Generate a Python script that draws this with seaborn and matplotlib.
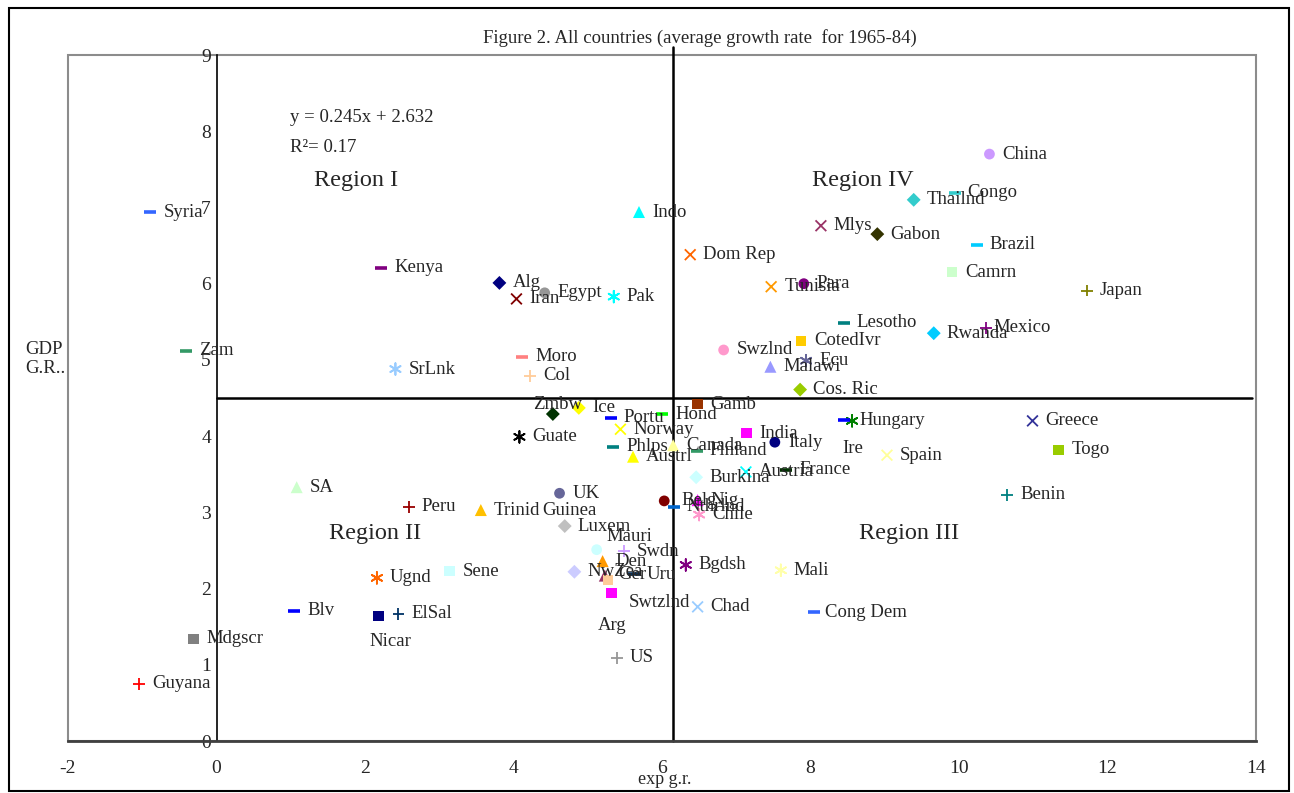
import pandas as pd
import seaborn as sns
import matplotlib.pyplot as plt
from matplotlib.patches import Rectangle

# country data
countries = ["Syria", "Kenya", "Zam", "SrLnk", "SA", "Peru", "Ugnd", "Blv", "Nicar", "ElSal",
             "Mdgscr", "Guyana", "Sene", "Trinid", "Guinea", "Guate", "Zmbw", "Ice", "Portu", "Norway",
             "Phlps", "Austrl", "Canada", "Hond", "Gamb", "Finland", "India", "Italy", "Ire", "Hungary",
             "Austria", "France", "Burkina", "Spain", "Greece", "Togo", "Benin", "UK", "Belg", "Nthrlnd",
             "Nig", "Chile", "Luxem", "Mauri", "Swdn", "Den", "NwZea", "Ger", "Arg", "Uru",
             "Swtzlnd", "US", "Bgdsh", "Mali", "Chad", "Cong Dem", "Indo", "Dom Rep", "Alg", "Iran",
             "Egypt", "Pak", "Moro", "Col", "Tunisia", "Para", "Mlys", "Gabon", "China", "Congo",
             "Thailnd", "Brazil", "Camrn", "Japan", "Lesotho", "CotedIvr", "Swzlnd", "Ecu", "Malawi", "Cos. Ric",
             "Rwanda", "Mexico"]
exp_gr = [-0.89, 2.22, -0.41, 2.41, 1.08, 2.59, 2.16, 1.05, 2.18, 2.45,
          -0.31, -1.04, 3.14, 3.56, 4.21, 4.08, 4.53, 4.88, 5.31, 5.44,
          5.34, 5.61, 6.15, 6.00, 6.48, 6.47, 7.14, 7.52, 8.45, 8.56,
          7.13, 7.67, 6.46, 9.03, 10.99, 11.34, 10.65, 4.62, 6.03, 6.16,
          6.48, 6.50, 4.69, 5.12, 5.49, 5.20, 4.82, 5.23, 5.27, 5.62,
          5.32, 5.39, 6.32, 7.60, 6.48, 8.05, 5.69, 6.38, 3.81, 4.04,
          4.42, 5.35, 4.12, 4.22, 7.47, 7.91, 8.14, 8.90, 10.41, 9.94,
          9.39, 10.24, 9.91, 11.72, 8.45, 7.87, 6.83, 7.94, 7.46, 7.86,
          9.66, 10.36]
gdp_gr = [6.94, 6.21, 5.12, 4.88, 3.33, 3.07, 2.14, 1.71, 1.64, 1.67,
          1.34, 0.75, 2.23, 3.03, 3.02, 3.99, 4.29, 4.37, 4.24, 4.09,
          3.86, 3.73, 3.88, 4.29, 4.42, 3.81, 4.04, 3.92, 4.21, 4.20,
          3.53, 3.56, 3.46, 3.75, 4.20, 3.82, 3.23, 3.25, 3.15, 3.07,
          3.16, 2.97, 2.82, 2.51, 2.49, 2.36, 2.22, 2.17, 2.11, 2.19,
          1.94, 1.09, 2.31, 2.24, 1.76, 1.69, 6.94, 6.38, 6.01, 5.80,
          5.88, 5.83, 5.04, 4.79, 5.96, 6.00, 6.76, 6.65, 7.70, 7.19,
          7.10, 6.51, 6.15, 5.91, 5.49, 5.25, 5.13, 4.99, 4.91, 4.61,
          5.35, 5.42]

# Excel-like marker per country (* = asterisk)
markers = ["_", "_", "_", "*", "^", "+", "*", "_", "s", "+",
           "s", "+", "s", "^", "o", "*", "D", "D", "_", "x",
           "_", "^", "^", "_", "s", "_", "s", "o", "_", "*",
           "x", "_", "D", "x", "x", "s", "+", "o", "o", "_",
           "^", "*", "D", "o", "+", "^", "D", "^", "s", "_",
           "s", "+", "*", "*", "x", "_", "^", "x", "D", "x",
           "o", "*", "_", "+", "x", "o", "x", "D", "o", "_",
           "D", "_", "s", "+", "_", "s", "o", "*", "^", "D",
           "D", "+"]
colors = ["#3366ff", "#800080", "#339966", "#99ccff", "#ccffcc", "#990000", "#ff6600", "#0000ff", "#000080", "#003366",
          "#808080", "#ff0000", "#ccffff", "#ffc000", "#ffffff", "#000000", "#003300", "#ffff00", "#0000ff", "#ffff00",
          "#008080", "#ffff00", "#ffff99", "#00ff00", "#993300", "#339966", "#ff00ff", "#000080", "#0000ff", "#008000",
          "#00ffff", "#003300", "#ccffff", "#ffff99", "#333399", "#99cc00", "#008080", "#666699", "#800000", "#0066cc",
          "#ff00ff", "#ff99cc", "#c0c0c0", "#ccffff", "#cc99ff", "#ff9900", "#ccccff", "#993366", "#ffcc99", "#003366",
          "#ff00ff", "#969696", "#800080", "#ffffaa", "#99ccff", "#3366ff", "#00ffff", "#ff6600", "#000080", "#800000",
          "#969696", "#00ffff", "#ff8080", "#ffcc99", "#ff9900", "#800080", "#993366", "#333300", "#cc99ff", "#33cccc",
          "#33cccc", "#00ccff", "#ccffcc", "#808000", "#008080", "#ffcc00", "#ff99cc", "#666699", "#9999ff", "#99cc00",
          "#00ccff", "#800080"]

# labels not sitting just right of their marker (offset in pixels)
label_offsets = {"Zmbw": (-20, 10), "Nicar": (-9, -26), "Arg": (-10, -45), "Mauri": (10, 13),
                 "Swtzlnd": (17, -9), "Ire": (-2, -28), "Hungary": (7, 0), "Mexico": (8, 0),
                 "Ger": (13, 1), "Cong Dem": (11, 0), "Belg": (17, 0)}

x_ticks = [-2, 0, 2, 4, 6, 8, 10, 12, 14]
y_ticks = [0, 1, 2, 3, 4, 5, 6, 7, 8, 9]
x_split = 6.15
y_split = 4.5

regions = ["Region I", "Region IV", "Region II", "Region III"]
region_x = [1.885, 8.71, 2.13, 9.33]
region_y = [7.36, 7.36, 2.72, 2.72]

df = pd.DataFrame({"country": countries, "exp": exp_gr, "gdp": gdp_gr,
                   "marker": markers, "color": colors})

sns.set_style("white")
plt.rcParams['font.family'] = ['Liberation Serif', 'DejaVu Serif']
plt.rcParams['axes.unicode_minus'] = False

fig = plt.figure(figsize=(12.94, 7.93), dpi=100)
ax = fig.add_axes([68 / 1294, 1 - 741 / 793, (1256 - 68) / 1294, (741 - 55) / 793])

sizes = {"D": 50, "s": 55, "^": 75, "o": 60, "x": 60, "*": 70, "+": 70, "_": 75}
for m, sub in df.groupby("marker"):
    mk = (6, 2, 0) if m == "*" else m
    pal = dict(zip(sub["country"], sub["color"]))
    if m in ("D", "s", "^", "o"):
        sns.scatterplot(data=sub, x="exp", y="gdp", hue="country", palette=pal, marker=mk,
                        s=sizes[m], linewidth=0, edgecolor="none", legend=False, ax=ax, zorder=3)
    else:
        sns.scatterplot(data=sub, x="exp", y="gdp", hue="country", palette=pal, marker=mk,
                        s=sizes[m], linewidth=2.6 if m == "_" else 1.3, legend=False, ax=ax, zorder=3)

for name, x, y in zip(countries, exp_gr, gdp_gr):
    dx, dy = label_offsets.get(name, (13, 0))
    ax.annotate(name, (x, y), xytext=(dx, dy), textcoords="offset pixels",
                ha="left", va="center", fontsize=13.5, zorder=4)

for txt, rx, ry in zip(regions, region_x, region_y):
    ax.text(rx, ry, txt, ha="center", va="center", fontsize=17.5)

ax.text(0.995, 8.18, "y = 0.245x + 2.632", ha="left", va="center", fontsize=13.5)
ax.text(0.995, 7.78, "R²= 0.17", ha="left", va="center", fontsize=13.5)

# quadrant lines
ax.plot([x_split, x_split], [0, 9.1], color="black", lw=1.8, clip_on=False, zorder=2)
ax.plot([0, 13.95], [y_split, y_split], color="black", lw=1.8, zorder=2)

ax.set_xlim(-2, 14)
ax.set_ylim(0, 9)
ax.set_xticks(x_ticks)
ax.set_yticks(y_ticks)
ax.set_xlabel("")
ax.set_ylabel("")
ax.spines["top"].set_visible(False)
ax.spines["right"].set_visible(False)
ax.spines["left"].set_position(("data", 0))
ax.spines["left"].set_color("black")
ax.spines["left"].set_linewidth(1.2)
ax.spines["bottom"].set_color("#404040")
ax.spines["bottom"].set_linewidth(2)
ax.add_patch(Rectangle((0, 0), 1, 1, transform=ax.transAxes, fill=False,
                       ec="#8c8c8c", lw=1.5, clip_on=False, zorder=0))
ax.tick_params(axis="y", direction="out", length=4, pad=0, labelsize=14, color="black")
ax.tick_params(axis="x", direction="out", length=6, pad=8, labelsize=14, color="#404040")
ax.grid(False)

fig.text(700 / 1294, 1 - 38 / 793, "Figure 2. All countries (average growth rate  for 1965-84)",
         ha="center", va="center", fontsize=13.5)
fig.text(665 / 1294, 1 - 779 / 793, "exp g.r.", ha="center", va="center", fontsize=13)
fig.text(25 / 1294, 1 - 359 / 793, "GDP\nG.R..", ha="left", va="center", fontsize=13.5)
fig.patches.append(Rectangle((9 / 1294, 1 - 791 / 793), 1280 / 1294, 783 / 793,
                             transform=fig.transFigure, fill=False, ec="black", lw=1.5))

fig.savefig("out.png", dpi=100)
